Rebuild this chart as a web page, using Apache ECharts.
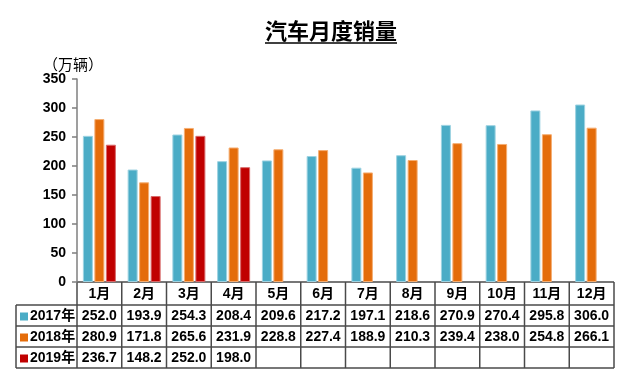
<!DOCTYPE html>
<html>
<head>
<meta charset="utf-8">
<style>
  html, body { margin: 0; padding: 0; background: #fff; }
  #chart { width: 640px; height: 377px; }
</style>
<script src="https://cdn.jsdelivr.net/npm/echarts@6/dist/echarts.min.js"></script>
</head>
<body>
<div id="chart"></div>
<script>
// 汽车月度销量（万辆）
const months = ['1月', '2月', '3月', '4月', '5月', '6月', '7月', '8月', '9月', '10月', '11月', '12月'];
const years = ['2017年', '2018年', '2019年'];
const sales2017 = [252.0, 193.9, 254.3, 208.4, 209.6, 217.2, 197.1, 218.6, 270.9, 270.4, 295.8, 306.0];
const sales2018 = [280.9, 171.8, 265.6, 231.9, 228.8, 227.4, 188.9, 210.3, 239.4, 238.0, 254.8, 266.1];
const sales2019 = [236.7, 148.2, 252.0, 198.0, null, null, null, null, null, null, null, null];
const yTicks = [0, 50, 100, 150, 200, 250, 300, 350];

const COLORS = ['#4BACC6', '#E46C0A', '#C00000'];
const EDGES = ['#9ED3E2', '#F5AE72', '#D86A6A'];
const FONT = 'Arial, "Liberation Sans", "Noto Sans CJK SC", sans-serif';
const LINE = '#4a4a4a';

const G = { left: 77, right: 26, top: 79, bottom: 95 };
const HEAD_H = 23;
const ROW_H = 21;
const TABLE_LEFT = 16;

const chart = echarts.init(document.getElementById('chart'));
const allSeries = [sales2017, sales2018, sales2019];

chart.setOption({
  animation: false,
  grid: G,
  xAxis: {
    type: 'category',
    data: months,
    axisLine: { show: false },
    axisTick: { show: false },
    axisLabel: { show: false },
  },
  yAxis: {
    type: 'value',
    min: yTicks[0],
    max: yTicks[yTicks.length - 1],
    interval: 50,
    axisLine: { show: true, lineStyle: { color: '#7f7f7f', width: 1.5 } },
    axisTick: { show: true, inside: false, length: 5, lineStyle: { color: '#7f7f7f', width: 1.5 } },
    axisLabel: { color: '#000', fontWeight: 'bold', fontSize: 14, fontFamily: FONT, margin: 11 },
    splitLine: { show: false },
  },
  series: years.map((name, i) => ({
    name,
    type: 'bar',
    data: allSeries[i],
    barWidth: 10,
    barGap: '15%',
    itemStyle: { color: COLORS[i], borderColor: EDGES[i], borderWidth: 1 },
  })),
});

// 表格与标题（位置基于坐标轴换算）
const x0 = chart.convertToPixel({ xAxisIndex: 0 }, 0);
const x1 = chart.convertToPixel({ xAxisIndex: 0 }, 1);
const colW = x1 - x0;
const plotLeft = G.left;
const plotRight = 640 - G.right;
const tableTop = 377 - G.bottom;
const rowTops = [tableTop + HEAD_H, tableTop + HEAD_H + ROW_H, tableTop + HEAD_H + ROW_H * 2];
const tableBottom = tableTop + HEAD_H + ROW_H * 3;

const graphics = [];
const hline = (xa, xb, y) => graphics.push({
  type: 'line', shape: { x1: xa, y1: y, x2: xb, y2: y },
  style: { stroke: LINE, lineWidth: 1.5 }, silent: true,
});
const vline = (x, ya, yb) => graphics.push({
  type: 'line', shape: { x1: x, y1: ya, x2: x, y2: yb },
  style: { stroke: LINE, lineWidth: 1.5 }, silent: true,
});
const cellText = (text, x, y, align) => graphics.push({
  type: 'text', x, y,
  style: { text, fill: '#000', font: 'bold 14px ' + FONT, align: align || 'center', verticalAlign: 'middle' },
  silent: true,
});

hline(plotLeft, plotRight, tableTop);
rowTops.forEach((y) => hline(TABLE_LEFT, plotRight, y));
hline(TABLE_LEFT, plotRight, tableBottom);
vline(TABLE_LEFT, rowTops[0], tableBottom);
for (let i = 0; i <= months.length; i++) {
  vline(plotLeft + i * colW, tableTop, tableBottom);
}

months.forEach((m, i) => {
  const cx = chart.convertToPixel({ xAxisIndex: 0 }, i);
  cellText(m, cx, tableTop + HEAD_H / 2 + 1);
  allSeries.forEach((arr, r) => {
    if (arr[i] != null) cellText(arr[i].toFixed(1), cx, rowTops[r] + ROW_H / 2 + 1);
  });
});

years.forEach((y, r) => {
  const cy = rowTops[r] + ROW_H / 2 + 1;
  graphics.push({
    type: 'rect', shape: { x: 20, y: cy - 4, width: 8, height: 8 },
    style: { fill: COLORS[r] }, silent: true,
  });
  cellText(y, 30, cy, 'left');
});

// 标题 + 下划线
graphics.push({
  type: 'text', x: 331, y: 31,
  style: { text: '汽车月度销量', fill: '#000', font: 'bold 22px "Noto Sans CJK SC", sans-serif', align: 'center', verticalAlign: 'middle' },
  silent: true,
});
graphics.push({
  type: 'line', shape: { x1: 265, y1: 43, x2: 397, y2: 43 },
  style: { stroke: '#000', lineWidth: 1.5 }, silent: true,
});
// 单位
graphics.push({
  type: 'text', x: 43, y: 64,
  style: { text: '（万辆）', fill: '#000', font: '15px "Noto Sans CJK SC", sans-serif', align: 'left', verticalAlign: 'middle' },
  silent: true,
});

chart.setOption({ graphic: graphics });
</script>
</body>
</html>
